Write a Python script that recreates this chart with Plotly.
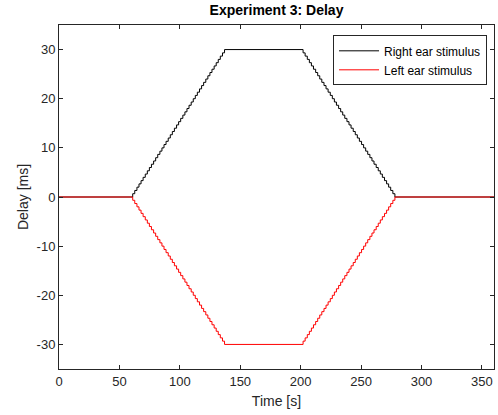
import plotly.graph_objects as go

# Time stamps (s) of the staircase steps
time_s = [0.0,
          61.0, 62.7, 64.5, 66.2, 67.9, 69.6, 71.4, 73.1, 74.8, 76.5, 78.3, 80.0, 81.7, 83.5, 85.2,
          86.9, 88.6, 90.4, 92.1, 93.8, 95.5, 97.3, 99.0, 100.7, 102.5, 104.2, 105.9, 107.6, 109.4, 111.1,
          112.8, 114.5, 116.3, 118.0, 119.7, 121.5, 123.2, 124.9, 126.6, 128.4, 130.1, 131.8, 133.5, 135.3, 137.0,
          202.0, 203.7, 205.5, 207.2, 208.9, 210.6, 212.4, 214.1, 215.8, 217.5, 219.3, 221.0, 222.7, 224.5, 226.2,
          227.9, 229.6, 231.4, 233.1, 234.8, 236.5, 238.3, 240.0, 241.7, 243.5, 245.2, 246.9, 248.6, 250.4, 252.1,
          253.8, 255.5, 257.3, 259.0, 260.7, 262.5, 264.2, 265.9, 267.6, 269.4, 271.1, 272.8, 274.5, 276.3, 278.0,
          360.0]

# Delay (ms) of the right-ear stimulus
right_delay = [0.0,
               0.67, 1.33, 2.0, 2.67, 3.33, 4.0, 4.67, 5.33, 6.0, 6.67, 7.33, 8.0, 8.67, 9.33, 10.0,
               10.67, 11.33, 12.0, 12.67, 13.33, 14.0, 14.67, 15.33, 16.0, 16.67, 17.33, 18.0, 18.67, 19.33, 20.0,
               20.67, 21.33, 22.0, 22.67, 23.33, 24.0, 24.67, 25.33, 26.0, 26.67, 27.33, 28.0, 28.67, 29.33, 30.0,
               29.33, 28.67, 28.0, 27.33, 26.67, 26.0, 25.33, 24.67, 24.0, 23.33, 22.67, 22.0, 21.33, 20.67, 20.0,
               19.33, 18.67, 18.0, 17.33, 16.67, 16.0, 15.33, 14.67, 14.0, 13.33, 12.67, 12.0, 11.33, 10.67, 10.0,
               9.33, 8.67, 8.0, 7.33, 6.67, 6.0, 5.33, 4.67, 4.0, 3.33, 2.67, 2.0, 1.33, 0.67, 0.0,
               0.0]

# Delay (ms) of the left-ear stimulus
left_delay = [0.0,
              -0.67, -1.33, -2.0, -2.67, -3.33, -4.0, -4.67, -5.33, -6.0, -6.67, -7.33, -8.0, -8.67, -9.33, -10.0,
              -10.67, -11.33, -12.0, -12.67, -13.33, -14.0, -14.67, -15.33, -16.0, -16.67, -17.33, -18.0, -18.67, -19.33, -20.0,
              -20.67, -21.33, -22.0, -22.67, -23.33, -24.0, -24.67, -25.33, -26.0, -26.67, -27.33, -28.0, -28.67, -29.33, -30.0,
              -29.33, -28.67, -28.0, -27.33, -26.67, -26.0, -25.33, -24.67, -24.0, -23.33, -22.67, -22.0, -21.33, -20.67, -20.0,
              -19.33, -18.67, -18.0, -17.33, -16.67, -16.0, -15.33, -14.67, -14.0, -13.33, -12.67, -12.0, -11.33, -10.67, -10.0,
              -9.33, -8.67, -8.0, -7.33, -6.67, -6.0, -5.33, -4.67, -4.0, -3.33, -2.67, -2.0, -1.33, -0.67, 0.0,
              0.0]

x_ticks = [0, 50, 100, 150, 200, 250, 300, 350]
x_tick_labels = ["0", "50", "100", "150", "200", "250", "300", "350"]
y_ticks = [-30, -20, -10, 0, 10, 20, 30]
y_tick_labels = ["-30", "-20", "-10", "0", "10", "20", "30"]

FONT = "Liberation Sans, Arial"

fig = go.Figure()
fig.add_trace(go.Scatter(x=time_s, y=right_delay, mode="lines", line_shape="hv",
                         line=dict(color="#000000", width=1), name="Right ear stimulus"))
fig.add_trace(go.Scatter(x=time_s, y=left_delay, mode="lines", line_shape="hv",
                         line=dict(color="#ff0000", width=1), name="Left ear stimulus"))

axis_common = dict(showgrid=False, zeroline=False, showline=True, linecolor="#262626", linewidth=1,
                   mirror="ticks", ticks="inside", ticklen=4, tickcolor="#262626",
                   tickfont=dict(family=FONT, size=13, color="#262626"))

fig.update_layout(
    width=498, height=415,
    margin=dict(l=59, r=4, t=25, b=46),
    paper_bgcolor="white", plot_bgcolor="white",
    title=dict(text="<b>Experiment 3: Delay</b>", x=0.5, xref="paper", y=1, yref="container",
               yanchor="top", pad=dict(t=5),
               font=dict(family=FONT, size=14, color="#000000")),
    xaxis=dict(range=[0, 360], tickvals=x_ticks, ticktext=x_tick_labels,
               title=dict(text="Time [s]", standoff=8,
                          font=dict(family=FONT, size=14, color="#262626")),
               **axis_common),
    yaxis=dict(range=[-35, 35], tickvals=y_ticks, ticktext=y_tick_labels,
               title=dict(text="Delay [ms]", standoff=4,
                          font=dict(family=FONT, size=14, color="#262626")),
               **axis_common),
    legend=dict(x=0.984, y=0.97, xanchor="right", yanchor="top", bgcolor="white",
                bordercolor="#262626", borderwidth=1,
                font=dict(family=FONT, size=12, color="#000000"),
                tracegroupgap=0, itemwidth=40),
    showlegend=True,
)

fig.write_html("out.html")
